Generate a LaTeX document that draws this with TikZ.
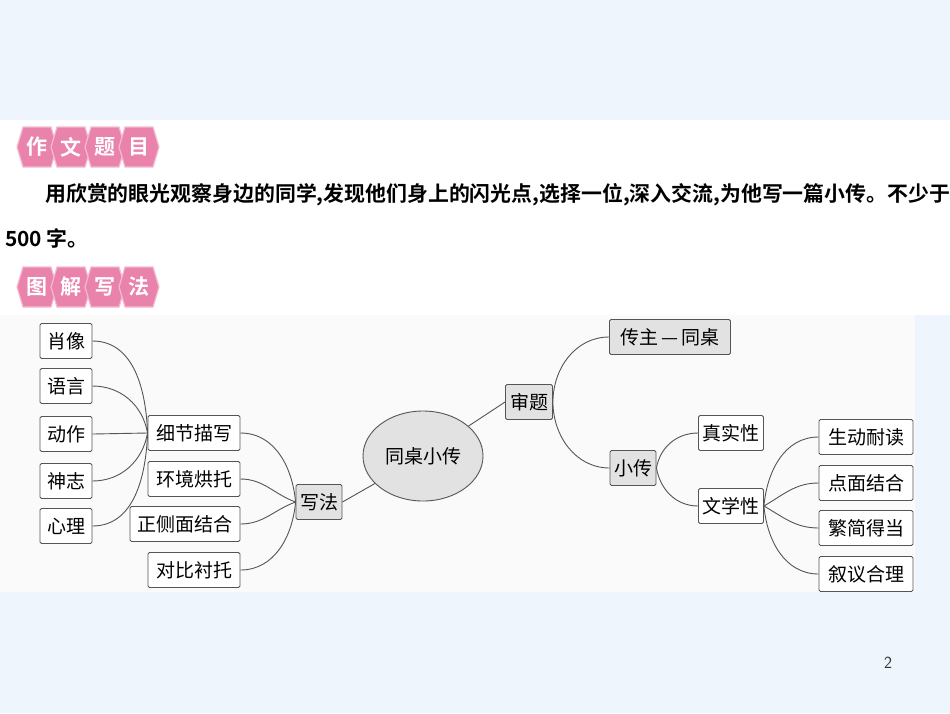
\documentclass[tikz,border=0pt]{standalone}
\usepackage{fontspec}
\newfontfamily\cjk{Noto Sans CJK SC}
\newfontfamily\cjkb{Noto Sans CJK SC Bold}
\usetikzlibrary{shapes.geometric}
\definecolor{bgblue}{HTML}{EEF5FC}
\definecolor{badge}{HTML}{E983AC}
\definecolor{boxfill}{HTML}{E2E2E2}
\definecolor{ln}{HTML}{555555}
\begin{document}
\begin{tikzpicture}[x=1pt,y=-1pt,
  leaf/.style={draw=ln,line width=0.9pt,fill=white,rounded corners=1.5pt,minimum height=35pt,inner xsep=4pt,font=\cjk\fontsize{19}{19}\selectfont},
  hub/.style={leaf,fill=boxfill},
  badgetext/.style={text=white,inner sep=0pt,font=\cjkb\fontsize{21}{21}\selectfont},
  badgeshape/.style={fill=badge,draw=badge!55,line width=1.2pt,line join=round},
  conn/.style={draw=ln,line width=0.9pt}]
\useasboundingbox (0,0) rectangle (950,713);
\fill[bgblue] (0,0) rectangle (950,713);
\fill[white] (0,120) rectangle (950,315);
\fill[white!98!black] (0,315) rectangle (915,592);
% badges
\foreach \t [count=\i] in {作,文,题,目} {
  \path[badgeshape] ({-11+34*\i},127) -- ++(28,0) -- ++(6,20) -- ++(-6,20) -- ++(-28,0) -- ++(-6,-20) -- cycle;
  \node[badgetext] (b1\i) at ({3+34*\i},147) {\t};}
\foreach \t [count=\i] in {图,解,写,法} {
  \path[badgeshape] ({-11+34*\i},267) -- ++(28,0) -- ++(6,20) -- ++(-6,20) -- ++(-28,0) -- ++(-6,-20) -- cycle;
  \node[badgetext] (b2\i) at ({3+34*\i},287) {\t};}
\node[anchor=west,inner sep=0pt,font=\cjkb\fontsize{20.9}{20}\selectfont] (txt1) at (45,195) {用欣赏的眼光观察身边的同学,发现他们身上的闪光点,选择一位,深入交流,为他写一篇小传。不少于};
\node[anchor=west,inner sep=0pt,font=\cjkb\fontsize{20.9}{20}\selectfont] (txt2) at (5,238) {500 字。};
\node[font=\sffamily\fontsize{17}{17}\selectfont,text=black!80] (pg) at (888,663) {2};
% nodes
\node[leaf,minimum width=52pt] (a1) at (66,341) {肖像};
\node[leaf,minimum width=52pt] (a2) at (66,386) {语言};
\node[leaf,minimum width=52pt] (a3) at (66,434) {动作};
\node[leaf,minimum width=52pt] (a4) at (66,481) {神志};
\node[leaf,minimum width=52pt] (a5) at (66,526) {心理};
\node[leaf,minimum width=92pt] (x1) at (194,433) {细节描写};
\node[leaf,minimum width=92pt] (x2) at (194,479) {环境烘托};
\node[leaf,minimum width=110pt] (x3) at (185,524) {正侧面结合};
\node[leaf,minimum width=92pt] (x4) at (194,570) {对比衬托};
\node[hub,minimum width=46pt] (xf) at (319,502) {写法};
\node[ellipse,draw=ln,line width=0.9pt,fill=boxfill,minimum width=120pt,minimum height=90pt,font=\cjk\fontsize{19}{19}\selectfont] (c) at (423,456) {同桌小传};
\node[hub,minimum width=47pt] (st) at (529,402) {审题};
\node[hub,minimum width=121pt] (cz) at (670,337) {传主\,—\,同桌};
\node[hub,minimum width=46pt] (xz) at (633,468) {小传};
\node[leaf,minimum width=65pt] (zs) at (731,433) {真实性};
\node[leaf,minimum width=65pt] (wx) at (731,506) {文学性};
\node[leaf,minimum width=94pt] (r1) at (866,437) {生动耐读};
\node[leaf,minimum width=94pt] (r2) at (866,483) {点面结合};
\node[leaf,minimum width=94pt] (r3) at (866,528) {繁简得当};
\node[leaf,minimum width=94pt] (r4) at (866,574) {叙议合理};
% connectors
\draw[conn] (x1.west) to[out=92,in=0] (a1.east);
\draw[conn] (x1.west) to[out=100,in=0] (a2.east);
\draw[conn] (x1.west) -- (a3.east);
\draw[conn] (x1.west) to[out=-100,in=0] (a4.east);
\draw[conn] (x1.west) to[out=-92,in=0] (a5.east);
\draw[conn] (xf.west) to[out=95,in=0] (x1.east);
\draw[conn] (xf.west) to[out=160,in=0] (x2.east);
\draw[conn] (xf.west) to[out=-160,in=0] (x3.east);
\draw[conn] (xf.west) to[out=-95,in=0] (x4.east);
\draw[conn] (xf.east) -- (c);
\draw[conn] (c) -- (st.west);
\draw[conn] (st.east) to[out=90,in=180] (cz.west);
\draw[conn] (st.east) to[out=-90,in=180] (xz.west);
\draw[conn] (xz.east) to[out=80,in=180] (zs.west);
\draw[conn] (xz.east) to[out=-80,in=180] (wx.west);
\draw[conn] (wx.east) to[out=85,in=180] (r1.west);
\draw[conn] (wx.east) to[out=30,in=180] (r2.west);
\draw[conn] (wx.east) to[out=-30,in=180] (r3.west);
\draw[conn] (wx.east) to[out=-85,in=180] (r4.west);
\end{tikzpicture}
\end{document}
